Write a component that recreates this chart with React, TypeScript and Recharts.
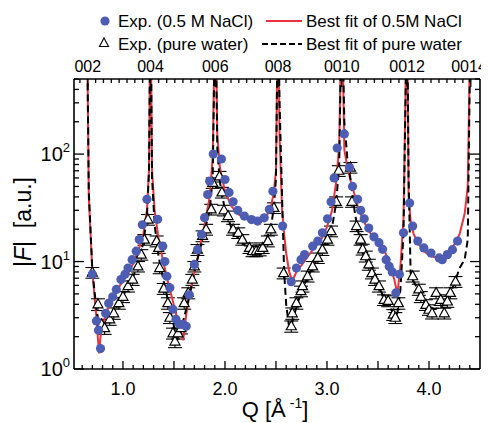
import React from 'react';
import { ComposedChart, Scatter, Line, XAxis, YAxis, ErrorBar } from 'recharts';

const W = 481;
const H = 415;
const FONT = '"Liberation Sans", Arial, sans-serif';
const BLUE = '#4d5db3';
const RED = '#e8323f';

// 00l reflections shown on the top axis
const peakQ = [0.655, 1.27, 1.905, 2.52, 3.145, 3.785, 4.41];
const peakLabels = ['002', '004', '006', '008', '0010', '0012', '0014'];

const xMajor = [1, 2, 3, 4];
const yMajor = [1, 10, 100];

// Exp. (0.5 M NaCl)
const naclQ = [
  0.7, 0.74, 0.76, 0.78, 0.83, 0.86, 0.9, 0.935, 0.98, 1.02, 1.05, 1.09, 1.13, 1.16, 1.19, 1.235,
  1.34, 1.39, 1.41, 1.43, 1.46, 1.49, 1.52, 1.555, 1.59, 1.62, 1.65, 1.7, 1.73, 1.77, 1.8, 1.83, 1.85, 1.885,
  1.965, 2.0, 2.04, 2.08, 2.125, 2.19, 2.26, 2.32, 2.385, 2.435, 2.47,
  2.565, 2.65, 2.7, 2.745, 2.78, 2.86, 2.91, 2.955, 3.005, 3.04, 3.07, 3.1,
  3.17, 3.22, 3.25, 3.3, 3.33, 3.365, 3.41, 3.46, 3.51, 3.545, 3.58, 3.61, 3.64, 3.675, 3.71, 3.75,
  3.81, 3.84, 3.89, 3.95, 4.02, 4.1, 4.13, 4.18, 4.23, 4.28,
];
const naclF = [
  7.6, 2.8, 2.3, 1.55, 3.3, 4.1, 4.7, 5.5, 6.8, 7.6, 8.7, 10.4, 12.5, 16, 22, 38,
  24.7, 13.9, 10, 7.3, 5.7, 3.6, 2.9, 2.6, 2.6, 2.5, 4.9, 9.4, 12.9, 17.9, 25.6, 42, 56, 100,
  90, 58, 44, 36, 30, 26.5, 24.6, 23.8, 25.5, 30.6, 45,
  21.4, 6.5, 8.7, 10.4, 11.6, 13.9, 15.5, 18.5, 25, 36, 60, 114,
  154, 75, 50, 38, 30, 25, 20.5, 17, 15, 13, 10.4, 9, 8, 5.1, 7.6, 18.5,
  35, 21.4, 15.5, 13.4, 12, 10.8, 10.4, 11.6, 12.9, 15.5,
];

// Exp. (pure water)
const waterQ = [
  0.7, 0.755, 0.79, 0.82, 0.87, 0.91, 0.96, 1.0, 1.05, 1.095, 1.147, 1.18, 1.21, 1.245,
  1.33, 1.35, 1.36, 1.4, 1.44, 1.46, 1.49, 1.51, 1.54, 1.57, 1.6, 1.64, 1.68, 1.7, 1.73, 1.78, 1.815, 1.865, 1.88,
  1.946, 1.97, 1.99, 2.03, 2.08, 2.13, 2.17, 2.24, 2.27, 2.305, 2.34, 2.37, 2.42, 2.45, 2.48,
  2.575, 2.65, 2.66, 2.7, 2.745, 2.76, 2.81, 2.86, 2.91, 2.955, 3.005, 3.04, 3.09, 3.115,
  3.23, 3.245, 3.29, 3.33, 3.35, 3.38, 3.41, 3.44, 3.47, 3.51, 3.56, 3.6, 3.65, 3.67, 3.7,
  3.84, 3.9, 3.92, 3.97, 4.0, 4.03, 4.07, 4.115, 4.15, 4.18, 4.21, 4.26,
];
const waterF = [
  7.9, 4.0, 2.6, 2.4, 2.9, 3.3, 4.1, 4.7, 5.9, 6.8, 9.0, 11.6, 16, 24.6,
  15.5, 13.4, 8.7, 5.6, 4.1, 3.0, 2.15, 1.8, 2.15, 2.4, 4.1, 5.1, 6.8, 9.0, 12.9, 17.3, 19.9, 30.6, 54,
  62, 44, 30, 26.5, 19.9, 18.5, 16, 13.4, 12.5, 12.5, 12.8, 13.4, 15.5, 19.9, 31.6,
  7.8, 2.5, 3.3, 4.1, 5.3, 5.9, 7.3, 9.0, 10.8, 12.9, 16, 19.2, 36, 70,
  75, 36, 21.4, 16, 13, 11.2, 9.4, 7.8, 6.8, 5.9, 4.4, 4.3, 3.2, 3.0, 4.1,
  7.3, 5.5, 4.7, 3.96, 3.56, 3.3, 5.1, 4.4, 3.3, 4.25, 5.1, 6.5,
];
const waterErr = [
  0.9, 0.5, 0.3, 0.3, 0.35, 0.4, 0.5, 0.55, 0.7, 0.8, 1.0, 1.3, 1.8, 2.8,
  1.8, 1.5, 1.0, 0.65, 0.5, 0.35, 0.25, 0.22, 0.25, 0.28, 0.5, 0.6, 0.8, 1.0, 1.5, 2.0, 2.3, 3.5, 6,
  7, 5, 3.4, 3, 2.3, 2.1, 1.8, 1.5, 1.4, 1.4, 1.5, 1.5, 1.8, 2.3, 3.6,
  0.9, 0.3, 0.4, 0.5, 0.6, 0.7, 0.85, 1.0, 1.2, 1.5, 1.8, 2.2, 4, 8,
  8.5, 4, 2.4, 1.8, 1.5, 1.3, 1.1, 0.9, 0.8, 0.7, 0.5, 0.5, 0.37, 0.35, 0.5,
  0.85, 0.65, 0.55, 0.45, 0.4, 0.38, 0.6, 0.5, 0.38, 0.5, 0.6, 0.75,
];

// best fits (diverge at the Bragg peaks, clipped at the top)
const fitQ = [
  0.645, 0.665, 0.7, 0.74, 0.765, 0.78, 0.8, 0.85, 0.9, 0.95, 1.0, 1.05, 1.1, 1.15, 1.2, 1.235, 1.255, 1.27,
  1.285, 1.31, 1.35, 1.4, 1.45, 1.5, 1.53, 1.56, 1.59, 1.62, 1.65, 1.7, 1.75, 1.8, 1.85, 1.88, 1.905,
  1.925, 1.95, 2.0, 2.06, 2.12, 2.2, 2.28, 2.35, 2.4, 2.45, 2.48, 2.5, 2.52,
  2.535, 2.56, 2.58, 2.6, 2.63, 2.66, 2.7, 2.76, 2.85, 2.95, 3.0, 3.05, 3.09, 3.12, 3.145,
  3.17, 3.2, 3.235, 3.27, 3.3, 3.35, 3.4, 3.45, 3.5, 3.56, 3.61, 3.66, 3.69, 3.72, 3.75, 3.785,
  3.8, 3.82, 3.85, 3.9, 3.95, 4.0, 4.05, 4.1, 4.15, 4.2, 4.25, 4.3, 4.35, 4.38, 4.41,
];
const fitNaCl = [
  3000, 40, 8, 3.0, 1.4, 2.0, 2.6, 3.6, 4.6, 5.6, 6.6, 7.8, 9.6, 12.5, 18, 30, 70, 3000,
  70, 30, 16, 9.5, 6.0, 3.9, 3.0, 2.3, 1.85, 3.2, 4.8, 7.8, 13, 22, 40, 95, 3000,
  150, 75, 45, 33, 28, 25, 23.5, 23.5, 25.5, 32, 45, 70, 3000,
  150, 30, 18, 12, 8, 6.6, 8, 9.5, 12.5, 16.5, 21, 30, 55, 120, 3000,
  110, 75, 55, 42, 33, 25, 20, 17, 15, 13, 9.7, 6.8, 5.0, 9, 25, 3000,
  40, 24, 18, 14.5, 12.5, 11.5, 11, 10.8, 11.2, 12.5, 14.5, 18, 28, 50, 3000,
];
const fitWater = [
  3000, 45, 8.2, 3.6, 2.6, 2.3, 2.4, 2.9, 3.4, 4.0, 4.8, 5.8, 7.2, 9.8, 15, 26, 70, 3000,
  60, 22, 11, 6.5, 4.0, 2.5, 1.85, 2.1, 2.8, 3.6, 4.7, 8.0, 12.5, 19, 30, 60, 3000,
  110, 55, 30, 21, 17, 14, 12.8, 13.2, 15.5, 21, 32, 60, 3000,
  300, 40, 8, 4, 2.4, 2.7, 3.8, 5.6, 8.5, 12.5, 16, 21, 35, 80, 3000,
  200, 90, 55, 30, 20, 13, 10, 7.6, 6.0, 4.6, 3.9, 3.1, 3.3, 5.5, 18, 3000,
  60, 7.8, 6.5, 5.3, 4.3, 3.8, 3.6, 3.7, 4.0, 4.8, 6.3, 8.7, 10.5, 16, 3000,
];

const naclRows = naclQ.map((q, i) => ({ q, f: naclF[i] }));
const waterRows = waterQ.map((q, i) => ({ q, f: waterF[i], e: waterErr[i] }));
const fitRows = fitQ.map((q, i) => ({ q, nacl: fitNaCl[i], water: fitWater[i] }));

// axis tick positions
const xTicks: number[] = [];
for (let i = 6; i <= 44; i++) xTicks.push(i / 10);
const yTicks: number[] = [];
yMajor.forEach((d) => {
  for (let k = 1; k <= 9; k++) if (k * d <= 500) yTicks.push(k * d);
});
const topTicks: number[] = [peakQ[0] - (peakQ[1] - peakQ[0]) / 8];
peakQ.forEach((p, i) => {
  topTicks.push(p);
  if (i < peakQ.length - 1) {
    const step = (peakQ[i + 1] - p) / 8;
    for (let k = 1; k < 8; k++) topTicks.push(p + k * step);
  }
});

const TW = 1.3; // tick thickness

const BottomTick = (p: any) => {
  const v = Math.round(p.payload.value * 10) / 10;
  const major = Math.abs(v * 2 - Math.round(v * 2)) < 1e-6;
  const len = major ? 8 : 4;
  return (
    <g>
      <rect x={p.x - TW / 2} y={p.y - len} width={TW} height={len} fill="#000" />
      {xMajor.includes(v) && (
        <text x={p.x} y={p.y + 26} textAnchor="middle" fontSize={18} fontFamily={FONT} fill="#000">
          {v.toFixed(1)}
        </text>
      )}
    </g>
  );
};

const TopTick = (p: any) => {
  const idx = peakQ.findIndex((q) => Math.abs(q - p.payload.value) < 1e-6);
  const len = idx >= 0 ? 8 : 4;
  const last = idx === peakQ.length - 1;
  return (
    <g>
      <rect x={p.x - TW / 2} y={p.y} width={TW} height={len} fill="#000" />
      {idx >= 0 && (
        <text
          x={last ? p.x + 16 : p.x}
          y={p.y - 7}
          textAnchor={last ? 'end' : 'middle'}
          fontSize={16}
          fontFamily={FONT}
          fill="#000"
        >
          {peakLabels[idx]}
        </text>
      )}
    </g>
  );
};

const LeftTick = (p: any) => {
  const v = p.payload.value;
  const major = yMajor.includes(v);
  const len = major ? 10 : 5;
  return (
    <g>
      <rect x={p.x} y={p.y - TW / 2} width={len} height={TW} fill="#000" />
      {major && (
        <text x={p.x - 4} y={p.y + 7} textAnchor="end" fontSize={20} fontFamily={FONT} fill="#000">
          10
          <tspan dy={-9} fontSize={13}>
            {Math.round(Math.log10(v))}
          </tspan>
        </text>
      )}
    </g>
  );
};

const RightTick = (p: any) => {
  const len = yMajor.includes(p.payload.value) ? 10 : 5;
  return <rect x={p.x - len} y={p.y - TW / 2} width={len} height={TW} fill="#000" />;
};

const Dot = (p: any) => <circle cx={p.cx} cy={p.cy} r={4.6} fill={BLUE} />;
const Tri = (p: any) => (
  <polygon
    points={`${p.cx},${p.cy - 5.5} ${p.cx + 5},${p.cy + 3.5} ${p.cx - 5},${p.cy + 3.5}`}
    fill="#fff"
    stroke="#000"
    strokeWidth={1.2}
  />
);

const axisLine = { stroke: '#000', strokeWidth: 1.6 };

export default function App() {
  return (
    <div style={{ position: 'relative', width: W, height: H, fontFamily: FONT }}>
      <ComposedChart
        width={W}
        height={H}
        margin={{ top: 41, right: 0, bottom: 24, left: 10 }}
        style={{ overflow: 'visible' }}
      >
        <XAxis
          xAxisId="b"
          dataKey="q"
          type="number"
          domain={[0.52, 4.5]}
          allowDataOverflow
          ticks={xTicks}
          interval={0}
          height={30}
          tickSize={0}
          tickMargin={0}
          tickLine={false}
          tick={BottomTick}
          axisLine={axisLine}
        />
        <XAxis
          xAxisId="t"
          dataKey="q"
          orientation="top"
          type="number"
          domain={[0.52, 4.5]}
          allowDataOverflow
          ticks={topTicks}
          interval={0}
          height={30}
          tickSize={0}
          tickMargin={0}
          tickLine={false}
          tick={TopTick}
          axisLine={axisLine}
        />
        <YAxis
          yAxisId="l"
          type="number"
          scale="log"
          domain={[1, 500]}
          allowDataOverflow
          ticks={yTicks}
          interval={0}
          width={56}
          tickSize={0}
          tickMargin={0}
          tickLine={false}
          tick={LeftTick}
          axisLine={axisLine}
        />
        <YAxis
          yAxisId="r"
          orientation="right"
          type="number"
          scale="log"
          domain={[1, 500]}
          allowDataOverflow
          ticks={yTicks}
          interval={0}
          width={9}
          tickSize={0}
          tickMargin={0}
          tickLine={false}
          tick={RightTick}
          axisLine={axisLine}
        />
        <Scatter data={waterRows} dataKey="f" xAxisId="b" yAxisId="l" shape={Tri} isAnimationActive={false}>
          <ErrorBar dataKey="e" direction="y" width={7} stroke="#000" strokeWidth={1.1} />
        </Scatter>
        <Scatter data={naclRows} dataKey="f" xAxisId="b" yAxisId="l" shape={Dot} isAnimationActive={false} />
        <Line
          data={fitRows}
          dataKey="nacl"
          xAxisId="t"
          yAxisId="r"
          type="linear"
          stroke={RED}
          strokeWidth={2}
          dot={false}
          isAnimationActive={false}
        />
        <Line
          data={fitRows}
          dataKey="water"
          xAxisId="b"
          yAxisId="l"
          type="linear"
          stroke="#000"
          strokeWidth={2}
          strokeDasharray="7 4"
          dot={false}
          isAnimationActive={false}
        />
      </ComposedChart>
      <svg width={W} height={H} style={{ position: 'absolute', left: 0, top: 0, pointerEvents: 'none' }}>
        <g fontFamily={FONT} fontSize={17} fill="#000">
          <circle cx={97} cy={13} r={4.6} fill={BLUE} />
          <text x={110} y={19}>Exp. (0.5 M NaCl)</text>
          <line x1={258} x2={294} y1={13} y2={13} stroke={RED} strokeWidth={2} />
          <text x={298} y={19}>Best fit of 0.5M NaCl</text>
          <polygon points="96,30 100.5,38.5 91.5,38.5" fill="#fff" stroke="#000" strokeWidth={1.1} />
          <text x={110} y={42}>Exp. (pure water)</text>
          <line x1={254} x2={294} y1={36} y2={36} stroke="#000" strokeWidth={2} strokeDasharray="6 3" />
          <text x={298} y={42}>Best fit of pure water</text>
        </g>
        <text x={267} y={409} textAnchor="middle" fontFamily={FONT} fontSize={22} fill="#000">
          Q [Å
          <tspan dx={4} dy={-9} fontSize={14}>
            -1
          </tspan>
          <tspan dy={9}>]</tspan>
        </text>
        <text
          transform="translate(23,214) rotate(-90)"
          textAnchor="middle"
          fontFamily={FONT}
          fontSize={23}
          fill="#000"
        >
          |<tspan fontStyle="italic">F</tspan>|{'\u00a0 '}[a.u.]
        </text>
      </svg>
    </div>
  );
}
